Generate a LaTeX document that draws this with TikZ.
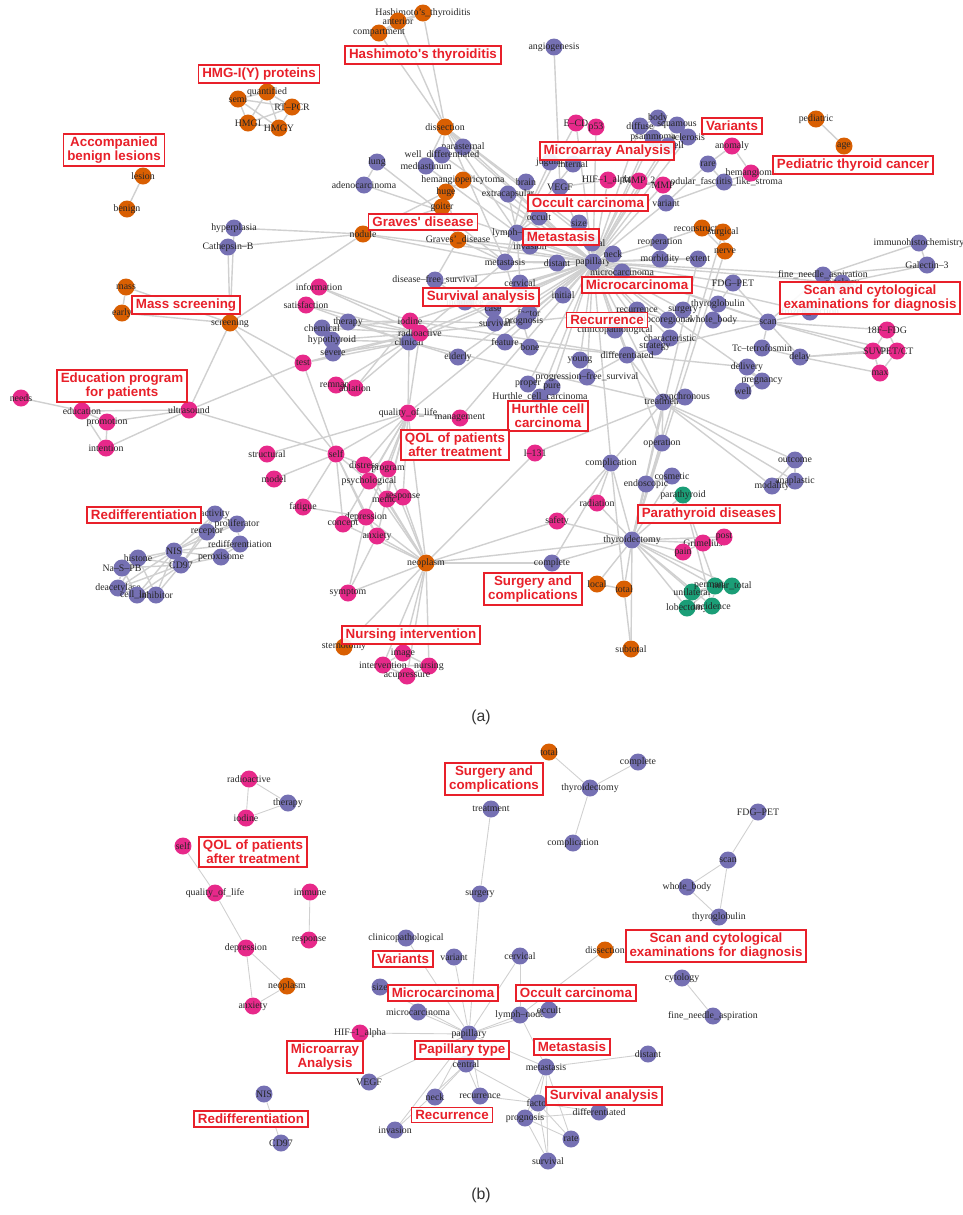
\documentclass[tikz,border=0pt]{standalone}
\usepackage{fontspec}
\setmainfont{Liberation Serif}
\newfontfamily\topicfont{Liberation Sans}
\usepackage{tikz}
\usetikzlibrary{backgrounds}

\definecolor{purp}{HTML}{7570B3}
\definecolor{orng}{HTML}{D95F02}
\definecolor{pinkc}{HTML}{E7298A}
\definecolor{grn}{HTML}{1B9E77}
\definecolor{edgec}{HTML}{D0D0D0}
\definecolor{boxred}{HTML}{E8202A}

\begin{document}
\begin{tikzpicture}[
    x=0.02cm, y=-0.02cm,
    termtext/.style={font=\fontsize{5.6}{6}\selectfont, text=black!85, inner sep=0pt},
    termnode/.style={circle, minimum size=3.4mm, inner sep=0pt},
    bluenode/.style={termnode, fill=purp, label={[termtext]center:#1}},
    orangenode/.style={termnode, fill=orng, label={[termtext]center:#1}},
    pinknode/.style={termnode, fill=pinkc, label={[termtext]center:#1}},
    greennode/.style={termnode, fill=grn, label={[termtext]center:#1}},
    topic/.style={draw=boxred, line width=1pt, fill=white, fill opacity=0.9, text opacity=1,
                  text=boxred, font=\topicfont\bfseries\fontsize{7.6}{8.2}\selectfont,
                  align=center, inner xsep=2.2pt, inner ysep=1.6pt},
    link/.style={draw=edgec, line width=0.8pt},
    thinlink/.style={draw=edgec, line width=0.5pt},
    caption/.style={font=\topicfont\fontsize{9}{10}\selectfont, text=black!80},
  ]
  \useasboundingbox (0,0) rectangle (963,1215);

  %%%%%%%%%%%%%%%%%%%% (a) %%%%%%%%%%%%%%%%%%%%
  %Orange nodes
  \node[orangenode={Hashimoto's\_thyroiditis}] (hashi) at (423,13) {};
  \node[orangenode=anterior]    (anter)   at (398,21) {};
  \node[orangenode=compartment] (compart) at (379,33) {};
  \node[orangenode=quantified]  (quant)   at (267,92) {};
  \node[orangenode=semi]        (semi)    at (238,99) {};
  \node[orangenode=RT--PCR]     (rtpcr)   at (292,107) {};
  \node[orangenode=HMGI]        (hmgi)    at (248,123) {};
  \node[orangenode=HMGY]        (hmgy)    at (279,128) {};
  \node[orangenode=lesion]      (lesion)  at (143,176) {};
  \node[orangenode=benign]      (benign)  at (127,209) {};
  \node[orangenode=dissection]  (dissec)  at (445,127) {};
  \node[orangenode=hemangiopericytoma] (hemang) at (463,180) {};
  \node[orangenode=huge]        (huge)    at (446,192) {};
  \node[orangenode=goiter]      (goiter)  at (442,207) {};
  \node[orangenode=nodule]      (nodule)  at (363,234) {};
  \node[orangenode={Graves'\_disease}] (graves) at (458,240) {};
  \node[orangenode=mass]        (mass)    at (126,287) {};
  \node[orangenode=early]       (early)   at (122,313) {};
  \node[orangenode=screening]   (screen)  at (230,323) {};
  \node[orangenode=pediatric]   (pediat)  at (816,119) {};
  \node[orangenode=age]         (age)     at (844,146) {};
  \node[orangenode=reconstruction] (recon) at (702,228) {};
  \node[orangenode=surgical]    (surgic)  at (723,232) {};
  \node[orangenode=nerve]       (nerve)   at (725,251) {};
  \node[orangenode=neoplasm]    (neopl)   at (426,563) {};
  \node[orangenode=sternotomy]  (sterno)  at (344,647) {};
  \node[orangenode=local]       (local)   at (597,584) {};
  \node[orangenode=total]       (total)   at (624,589) {};
  \node[orangenode=subtotal]    (subtot)  at (631,649) {};

  %Purple nodes
  \node[bluenode=parasternal]   (parast)  at (463,147) {};
  \node[bluenode=well\_differentiated] (welldiff) at (442,155) {};
  \node[bluenode=mediastinum]   (medias)  at (426,166) {};
  \node[bluenode=lung]          (lung)    at (377,162) {};
  \node[bluenode=adenocarcinoma] (adeno)  at (364,185) {};
  \node[bluenode=hyperplasia]   (hyperp)  at (234,228) {};
  \node[bluenode=Cathepsin--B]  (cathep)  at (228,247) {};
  \node[bluenode=angiogenesis]  (angio)   at (554,47) {};
  \node[bluenode=body]          (body)    at (658,118) {};
  \node[bluenode=diffuse]       (diffuse) at (640,126) {};
  \node[bluenode=squamous]      (squam)   at (677,125) {};
  \node[bluenode=psammoma]      (psamm)   at (653,138) {};
  \node[bluenode=sclerosis]     (sclero)  at (688,137) {};
  \node[bluenode=tall\_cell]    (tallc)   at (668,146) {};
  \node[bluenode=jugular]       (jugul)   at (550,162) {};
  \node[bluenode=internal]      (intern)  at (573,164) {};
  \node[bluenode=rare]          (rare)    at (708,164) {};
  \node[bluenode=nodular\_fasciitis\_like\_stroma] (nodfas) at (724,182) {};
  \node[bluenode=brain]         (brain)   at (526,182) {};
  \node[bluenode=VEGF]          (vegf)    at (560,187) {};
  \node[bluenode=extracapsular] (extrac)  at (508,194) {};
  \node[bluenode=variant]       (variant) at (666,203) {};
  \node[bluenode=occult]        (occult)  at (539,217) {};
  \node[bluenode=size]          (size)    at (579,223) {};
  \node[bluenode=lymph--node]   (lymph)   at (517,233) {};
  \node[bluenode=invasion]      (invas)   at (530,246) {};
  \node[bluenode=central]       (central) at (592,243) {};
  \node[bluenode=reoperation]   (reop)    at (660,242) {};
  \node[bluenode=metastasis]    (metast)  at (505,262) {};
  \node[bluenode=distant]       (distant) at (557,263) {};
  \node[bluenode=papillary]     (papill)  at (593,262) {};
  \node[bluenode=neck]          (neck)    at (613,254) {};
  \node[bluenode=microcarcinoma] (microc) at (622,272) {};
  \node[bluenode=morbidity]     (morbid)  at (660,259) {};
  \node[bluenode=extent]        (extent)  at (698,259) {};
  \node[bluenode=disease--free\_survival] (dfs) at (435,280) {};
  \node[bluenode=cervical]      (cervic)  at (520,283) {};
  \node[bluenode=initial]       (initial) at (563,295) {};
  \node[bluenode=incidence]     (incid)   at (465,302) {};
  \node[bluenode=case]          (case)    at (493,309) {};
  \node[bluenode=survival]      (surviv)  at (495,323) {};
  \node[bluenode=factor]        (factor)  at (529,313) {};
  \node[bluenode=prognosis]     (progn)   at (524,321) {};
  \node[bluenode=feature]       (feature) at (505,342) {};
  \node[bluenode=bone]          (bone)    at (530,347) {};
  \node[bluenode=proper]        (proper)  at (528,384) {};
  \node[bluenode=pure]          (pure)    at (552,387) {};
  \node[bluenode=Hurthle\_cell\_carcinoma] (hurthle) at (540,397) {};
  \node[bluenode=therapy]       (therapy) at (348,322) {};
  \node[bluenode=chemical]      (chemic)  at (322,328) {};
  \node[bluenode=hypothyroid]   (hypoth)  at (332,340) {};
  \node[bluenode=severe]        (severe)  at (333,353) {};
  \node[bluenode=clinical]      (clinic)  at (409,342) {};
  \node[bluenode=elderly]       (elderly) at (458,357) {};
  \node[bluenode=FDG--PET]      (fdgpet)  at (733,283) {};
  \node[bluenode=immunohistochemistry] (immuno) at (919,243) {};
  \node[bluenode=Galectin--3]   (galect)  at (927,265) {};
  \node[bluenode=fine\_needle\_aspiration] (fna) at (823,275) {};
  \node[bluenode=cytology]      (cytol)   at (842,283) {};
  \node[bluenode=frozen\_section] (frozen) at (810,312) {};
  \node[bluenode=recurrence]    (recurr)  at (637,310) {};
  \node[bluenode=surgery]       (surgery) at (683,310) {};
  \node[bluenode=thyroglobulin] (thyrog)  at (718,304) {};
  \node[bluenode=whole\_body]   (whole)   at (713,320) {};
  \node[bluenode=scan]          (scan)    at (768,322) {};
  \node[bluenode=locoregional]  (locoreg) at (668,320) {};
  \node[bluenode=clinicopathological] (clinpath) at (615,330) {};
  \node[bluenode=characteristic] (charac) at (670,338) {};
  \node[bluenode=strategy]      (strat)   at (655,347) {};
  \node[bluenode=differentiated] (differ) at (627,355) {};
  \node[bluenode=young]         (young)   at (580,360) {};
  \node[bluenode=Tc--tetrofosmin] (tc)    at (762,348) {};
  \node[bluenode=delay]         (delay)   at (800,357) {};
  \node[bluenode=delivery]      (deliv)   at (747,367) {};
  \node[bluenode=pregnancy]     (pregn)   at (762,381) {};
  \node[bluenode=well]          (well)    at (743,391) {};
  \node[bluenode=progression--free\_survival] (pfs) at (587,377) {};
  \node[bluenode=treatment]     (treat)   at (663,402) {};
  \node[bluenode=synchronous]   (synchr)  at (685,397) {};
  \node[bluenode=operation]     (operat)  at (662,443) {};
  \node[bluenode=complication]  (complic) at (611,463) {};
  \node[bluenode=outcome]       (outcome) at (795,460) {};
  \node[bluenode=cosmetic]      (cosmet)  at (672,476) {};
  \node[bluenode=endoscopic]    (endosc)  at (646,484) {};
  \node[bluenode=modality]      (modal)   at (772,486) {};
  \node[bluenode=anaplastic]    (anapl)   at (795,481) {};
  \node[bluenode=thyroidectomy] (thyroid) at (632,540) {};
  \node[bluenode=complete]      (complete) at (552,563) {};
  \node[bluenode=activity]      (activity) at (215,514) {};
  \node[bluenode=proliferator]  (prolif)  at (237,524) {};
  \node[bluenode=receptor]      (receptor) at (207,532) {};
  \node[bluenode=redifferentiation] (rediff) at (240,544) {};
  \node[bluenode=NIS]           (nis)     at (174,551) {};
  \node[bluenode=peroxisome]    (perox)   at (221,557) {};
  \node[bluenode=histone]       (histone) at (138,558) {};
  \node[bluenode=CD97]          (cd97)    at (181,565) {};
  \node[bluenode=Na--S--PB]     (naspb)   at (122,568) {};
  \node[bluenode=deacetylase]   (deacet)  at (118,588) {};
  \node[bluenode=cell\_line]    (cellline) at (137,595) {};
  \node[bluenode=inhibitor]     (inhib)   at (156,595) {};

  %Pink nodes
  \node[pinknode=E--CD]         (ecd)     at (576,123) {};
  \node[pinknode=p53]           (p53)     at (596,127) {};
  \node[pinknode=anomaly]       (anomaly) at (732,146) {};
  \node[pinknode=hemangioma]    (hemangi) at (751,173) {};
  \node[pinknode=HIF--1\_alpha] (hif)     at (608,180) {};
  \node[pinknode=MMP\_2]        (mmp2)    at (639,181) {};
  \node[pinknode=MMP]           (mmp)     at (663,185) {};
  \node[pinknode=information]   (inform)  at (319,287) {};
  \node[pinknode=satisfaction]  (satisf)  at (306,305) {};
  \node[pinknode=iodine]        (iodine)  at (410,321) {};
  \node[pinknode=radioactive]   (radio)   at (420,333) {};
  \node[pinknode=test]          (test)    at (303,363) {};
  \node[pinknode=remnant]       (remnant) at (336,385) {};
  \node[pinknode=ablation]      (ablat)   at (355,388) {};
  \node[pinknode=quality\_of\_life] (qol) at (408,413) {};
  \node[pinknode=management]    (manage)  at (460,418) {};
  \node[pinknode=needs]         (needs)   at (21,398) {};
  \node[pinknode=education]     (educ)    at (82,411) {};
  \node[pinknode=promotion]     (promot)  at (107,422) {};
  \node[pinknode=intention]     (intent)  at (106,448) {};
  \node[pinknode=ultrasound]    (ultra)   at (189,410) {};
  \node[pinknode=structural]    (struct)  at (267,454) {};
  \node[pinknode=self]          (self)    at (336,454) {};
  \node[pinknode=I--131]        (i131)    at (535,453) {};
  \node[pinknode=model]         (model)   at (274,479) {};
  \node[pinknode=distress]      (distress) at (364,465) {};
  \node[pinknode=program]       (program) at (388,469) {};
  \node[pinknode=psychological] (psych)   at (369,481) {};
  \node[pinknode=method]        (method)  at (387,499) {};
  \node[pinknode=response]      (respon)  at (403,497) {};
  \node[pinknode=fatigue]       (fatigue) at (303,507) {};
  \node[pinknode=depression]    (depress) at (366,517) {};
  \node[pinknode=concept]       (concept) at (343,524) {};
  \node[pinknode=anxiety]       (anxiety) at (377,536) {};
  \node[pinknode=symptom]       (symptom) at (348,593) {};
  \node[pinknode=image]         (image)   at (403,653) {};
  \node[pinknode=intervention]  (interv)  at (383,665) {};
  \node[pinknode=nursing]       (nursing) at (429,666) {};
  \node[pinknode=acupressure]   (acupr)   at (407,676) {};
  \node[pinknode=radiation]     (radiat)  at (597,503) {};
  \node[pinknode=safety]        (safety)  at (557,521) {};
  \node[pinknode=Grimelius]     (grim)    at (703,543) {};
  \node[pinknode=post]          (post)    at (724,537) {};
  \node[pinknode=pain]          (pain)    at (683,552) {};
  \node[pinknode=18F--FDG]      (fdg18)   at (887,330) {};
  \node[pinknode=SUV]           (suv)     at (873,351) {};
  \node[pinknode=PET/CT]        (petct)   at (897,351) {};
  \node[pinknode=max]           (max)     at (880,373) {};

  %Green nodes
  \node[greennode=parathyroid]  (parath)  at (683,495) {};
  \node[greennode=unilateral]   (unilat)  at (692,592) {};
  \node[greennode=permanent]    (perman)  at (715,586) {};
  \node[greennode=near\_total]  (neartot) at (732,586) {};
  \node[greennode=lobectomy]    (lobect)  at (687,608) {};
  \node[greennode=incidence]    (incidg)  at (712,606) {};

  %%%%%%%%%%%%%%%%%%%% (b) %%%%%%%%%%%%%%%%%%%%
  \node[orangenode=total]       (btotal)   at (549,752) {};
  \node[bluenode=complete]      (bcomplete) at (638,762) {};
  \node[bluenode=thyroidectomy] (bthyroid) at (590,788) {};
  \node[bluenode=treatment]     (btreat)   at (491,809) {};
  \node[bluenode=complication]  (bcomplic) at (573,843) {};
  \node[bluenode=surgery]       (bsurgery) at (480,894) {};
  \node[bluenode=FDG--PET]      (bfdgpet)  at (758,812) {};
  \node[bluenode=scan]          (bscan)    at (728,860) {};
  \node[bluenode=whole\_body]   (bwhole)   at (687,887) {};
  \node[bluenode=thyroglobulin] (bthyrog)  at (719,917) {};
  \node[pinknode=radioactive]   (bradio)   at (249,779) {};
  \node[bluenode=therapy]       (btherapy) at (288,803) {};
  \node[pinknode=iodine]        (biodine)  at (246,818) {};
  \node[pinknode=self]          (bself)    at (183,846) {};
  \node[pinknode=quality\_of\_life] (bqol)  at (215,893) {};
  \node[pinknode=immune]        (bimmune)  at (310,892) {};
  \node[pinknode=response]      (brespon)  at (309,940) {};
  \node[pinknode=depression]    (bdepress) at (246,948) {};
  \node[orangenode=neoplasm]    (bneopl)   at (287,986) {};
  \node[pinknode=anxiety]       (banxiety) at (253,1006) {};
  \node[bluenode=clinicopathological] (bclinpath) at (406,938) {};
  \node[bluenode=variant]       (bvariant) at (454,957) {};
  \node[bluenode=cervical]      (bcervic)  at (520,956) {};
  \node[orangenode=dissection]  (bdissec)  at (605,950) {};
  \node[bluenode=cytology]      (bcytol)   at (682,978) {};
  \node[bluenode=fine\_needle\_aspiration] (bfna) at (713,1016) {};
  \node[bluenode=size]          (bsize)    at (380,987) {};
  \node[bluenode=microcarcinoma] (bmicroc) at (418,1012) {};
  \node[bluenode=lymph--node]   (blymph)   at (520,1015) {};
  \node[bluenode=occult]        (boccult)  at (549,1010) {};
  \node[pinknode=HIF--1\_alpha] (bhif)     at (360,1033) {};
  \node[bluenode=papillary]     (bpapill)  at (469,1034) {};
  \node[bluenode=distant]       (bdistant) at (648,1054) {};
  \node[bluenode=central]       (bcentral) at (466,1064) {};
  \node[bluenode=metastasis]    (bmetast)  at (546,1067) {};
  \node[bluenode=VEGF]          (bvegf)    at (369,1082) {};
  \node[bluenode=NIS]           (bnis)     at (264,1094) {};
  \node[bluenode=CD97]          (bcd97)    at (281,1143) {};
  \node[bluenode=neck]          (bneck)    at (435,1097) {};
  \node[bluenode=recurrence]    (brecurr)  at (480,1096) {};
  \node[bluenode=factor]        (bfactor)  at (538,1103) {};
  \node[bluenode=differentiated] (bdiffer) at (599,1112) {};
  \node[bluenode=prognosis]     (bprogn)   at (525,1118) {};
  \node[bluenode=invasion]      (binvas)   at (395,1130) {};
  \node[bluenode=rate]          (brate)    at (571,1139) {};
  \node[bluenode=survival]      (bsurviv)  at (548,1161) {};

  %Lines
  \begin{scope}[on background layer]
    \foreach \a/\b in {
      dissec/hashi, dissec/anter, dissec/compart, hashi/anter, anter/compart, hashi/compart,
      semi/quant, semi/rtpcr, semi/hmgi, semi/hmgy, quant/rtpcr, quant/hmgi, quant/hmgy,
      rtpcr/hmgi, rtpcr/hmgy, hmgi/hmgy, lesion/benign, pediat/age,
      dissec/parast, dissec/welldiff, dissec/medias, dissec/lymph, dissec/central, dissec/neck,
      dissec/papill, dissec/metast, medias/lymph, welldiff/papill, parast/papill,
      lung/adeno, lung/metast, adeno/papill, hemang/huge, hemang/papill, huge/goiter,
      huge/graves, goiter/graves, goiter/nodule, huge/nodule, nodule/papill, nodule/metast,
      nodule/hyperp, nodule/cathep, nodule/screen, graves/papill, graves/invas, graves/metast,
      hyperp/screen, cathep/screen, mass/early, mass/screen, early/screen,
      screen/ultra, screen/test, screen/self, ultra/educ, ultra/promot, ultra/intent,
      ultra/test, ultra/self, educ/needs, educ/promot, educ/intent, promot/intent,
      angio/vegf, ecd/p53, ecd/papill, p53/papill, ecd/lymph, body/diffuse, diffuse/squam,
      body/squam, psamm/sclero, psamm/tallc, diffuse/papill, squam/papill, body/papill,
      psamm/papill, sclero/papill, tallc/papill, anomaly/hemangi, anomaly/rare, rare/nodfas,
      hemangi/nodfas, variant/papill, variant/rare, variant/nodfas, hif/vegf, hif/papill,
      mmp2/papill, mmp/papill, mmp2/mmp, hif/mmp2, vegf/papill, brain/metast, jugul/intern,
      jugul/lymph, intern/lymph, extrac/lymph, extrac/papill, occult/papill, occult/lymph,
      size/papill, size/central, lymph/papill, lymph/central, lymph/metast, invas/papill,
      central/papill, central/neck, metast/papill, metast/distant, neck/papill, microc/papill,
      reop/papill, morbid/papill, extent/papill, reop/morbid, morbid/extent, recon/surgic,
      surgic/nerve, recon/nerve, recon/reop, surgic/thyroid, nerve/thyroid, extent/thyroid,
      cervic/papill, cervic/lymph, initial/papill, incid/papill, case/papill, surviv/papill,
      factor/progn, factor/papill, progn/surviv, case/surviv, feature/papill, bone/metast,
      proper/papill, pure/papill, hurthle/proper, hurthle/pure, hurthle/papill, young/papill,
      differ/papill, pfs/differ, pfs/papill, charac/papill, strat/papill, recurr/papill,
      surgery/papill, locoreg/recurr, locoreg/papill, clinpath/papill, fdgpet/papill,
      fdgpet/thyrog, fdgpet/scan, thyrog/whole, thyrog/scan, whole/scan, thyrog/papill,
      scan/papill, scan/tc, scan/delay, scan/fna, scan/fdg18, scan/suv, scan/petct,
      scan/frozen, scan/differ, tc/delay, delay/suv, delay/petct, delay/max, fdg18/suv,
      fdg18/petct, suv/petct, suv/max, petct/max, deliv/pregn, pregn/well, deliv/well,
      pregn/papill, deliv/differ, immuno/galect, immuno/fna, galect/fna, fna/cytol,
      galect/cytol, fna/papill, cytol/papill, frozen/papill, treat/papill, treat/differ,
      treat/synchr, treat/clinic, treat/operat, treat/thyroid, treat/complic, treat/outcome,
      treat/modal, treat/anapl, outcome/anapl, outcome/modal, modal/anapl, operat/thyroid,
      operat/papill, complic/thyroid, complic/papill, complic/radiat, complic/safety,
      complic/complete, complic/total, i131/treat, i131/neopl, radiat/thyroid, safety/thyroid,
      complete/thyroid, safety/neopl, complete/neopl, local/thyroid, total/thyroid,
      subtot/thyroid, total/subtot, local/total, cosmet/thyroid, endosc/thyroid, cosmet/endosc,
      parath/thyroid, grim/thyroid, pain/thyroid, post/thyroid, grim/post, grim/pain,
      unilat/thyroid, perman/thyroid, neartot/thyroid, lobect/thyroid, incidg/thyroid,
      parath/perman, parath/incidg, unilat/lobect, unilat/perman, perman/neartot,
      lobect/incidg, perman/incidg, unilat/neartot, lobect/perman, neopl/thyroid, neopl/qol,
      neopl/anxiety, neopl/depress, neopl/respon, neopl/method, neopl/program, neopl/concept,
      neopl/symptom, neopl/sterno, neopl/image, neopl/interv, neopl/nursing, neopl/acupr,
      neopl/psych, neopl/distress, qol/self, qol/manage, qol/struct, qol/distress,
      qol/program, qol/method, qol/respon, qol/psych, qol/depress, qol/anxiety, qol/concept,
      qol/papill, manage/papill, self/model, self/distress, self/psych, self/depress,
      self/concept, self/anxiety, self/fatigue, self/test, fatigue/depress, concept/depress,
      depress/anxiety, symptom/anxiety, symptom/depress, interv/image, interv/nursing,
      acupr/nursing, image/nursing, interv/acupr, program/method, distress/psych,
      iodine/papill, radio/papill, clinic/papill, iodine/differ, radio/differ, iodine/surviv,
      radio/recurr, clinic/metast, therapy/iodine, therapy/radio, therapy/clinic,
      chemic/radio, chemic/iodine, hypoth/radio, hypoth/clinic, severe/clinic, severe/radio,
      inform/iodine, inform/radio, satisf/radio, satisf/clinic, test/radio, test/clinic,
      remnant/radio, ablat/iodine, ablat/radio, remnant/ablat, qol/clinic, qol/radio,
      iodine/radio, iodine/clinic, radio/clinic, elderly/clinic, elderly/papill,
      dfs/papill, dfs/graves, dfs/surviv,
      nis/activity, nis/prolif, nis/receptor, nis/rediff, nis/perox, nis/histone, nis/cd97,
      nis/naspb, nis/deacet, nis/cellline, nis/inhib, cd97/activity, cd97/receptor,
      cd97/rediff, cd97/perox, cd97/histone, cd97/naspb, cd97/deacet, cd97/cellline,
      cd97/inhib, activity/prolif, prolif/receptor, receptor/activity, rediff/perox,
      rediff/prolif, histone/naspb, histone/deacet, naspb/deacet, deacet/cellline,
      cellline/inhib, histone/inhib, naspb/cellline}
      \draw[link] (\a) -- (\b);

    \foreach \a/\b in {
      btotal/bthyroid, bcomplete/bthyroid, bthyroid/bcomplic, btreat/bsurgery,
      bsurgery/bpapill, bfdgpet/bscan, bscan/bwhole, bscan/bthyrog, bwhole/bthyrog,
      bradio/btherapy, bradio/biodine, btherapy/biodine, bself/bqol, bqol/bdepress,
      bdepress/bneopl, bdepress/banxiety, bneopl/banxiety, bimmune/brespon, bcytol/bfna,
      bnis/bcd97, bdissec/blymph, bclinpath/bpapill, bvariant/bpapill, bcervic/blymph,
      bcervic/bpapill, bsize/bpapill, bmicroc/bpapill, blymph/bpapill, boccult/bpapill,
      bhif/bpapill, bcentral/bpapill, bmetast/bpapill, bmetast/bdistant, bmetast/blymph,
      bneck/bpapill, bneck/bcentral, brecurr/bpapill, binvas/bpapill, binvas/bcentral,
      bvegf/bpapill, bfactor/bmetast, bprogn/bmetast, brate/bmetast, bsurviv/bmetast,
      bfactor/bprogn, bfactor/bdiffer, bfactor/brate, bsurviv/bfactor, bprogn/bsurviv,
      bprogn/brate, bdiffer/bprogn, brecurr/bfactor, bcentral/bfactor, bcentral/brecurr}
      \draw[thinlink] (\a) -- (\b);
  \end{scope}

  %Topic boxes (a)
  \node[topic] (tHashi)   at (423,55)  {Hashimoto's thyroiditis};
  \node[topic] (tHmg)     at (259,74)  {HMG-I(Y) proteins};
  \node[topic] (tBenign)  at (114,150) {Accompanied\\benign lesions};
  \node[topic] (tGraves)  at (423,222) {Graves' disease};
  \node[topic] (tArray)   at (607,151) {Microarray Analysis};
  \node[topic] (tVar)     at (732,126) {Variants};
  \node[topic] (tPed)     at (853,165) {Pediatric thyroid cancer};
  \node[topic] (tOccult)  at (588,203) {Occult carcinoma};
  \node[topic] (tMeta)    at (561,237) {Metastasis};
  \node[topic] (tMicro)   at (637,285) {Microcarcinoma};
  \node[topic] (tSurv)    at (481,297) {Survival analysis};
  \node[topic] (tRecur)   at (607,320) {Recurrence};
  \node[topic] (tScan)    at (870,298) {Scan and cytological\\examinations for diagnosis};
  \node[topic] (tMass)    at (186,305) {Mass screening};
  \node[topic] (tEdu)     at (122,386) {Education program\\for patients};
  \node[topic] (tHurthle) at (548,416) {Hurthle cell\\carcinoma};
  \node[topic] (tQol)     at (455,445) {QOL of patients\\after treatment};
  \node[topic] (tRediff)  at (144,515) {Redifferentiation};
  \node[topic] (tPara)    at (709,514) {Parathyroid diseases};
  \node[topic] (tSurg)    at (533,589) {Surgery and\\complications};
  \node[topic] (tNurse)   at (411,635) {Nursing intervention};

  %Topic boxes (b)
  \node[topic] (ubSurg)   at (494,779)  {Surgery and\\complications};
  \node[topic] (ubQol)    at (253,852)  {QOL of patients\\after treatment};
  \node[topic] (ubVar)    at (403,959)  {Variants};
  \node[topic] (ubScan)   at (716,946)  {Scan and cytological\\examinations for diagnosis};
  \node[topic] (ubMicro)  at (443,993)  {Microcarcinoma};
  \node[topic] (ubOccult) at (576,993)  {Occult carcinoma};
  \node[topic] (ubArray)  at (325,1057) {Microarray\\Analysis};
  \node[topic] (ubPap)    at (462,1050) {Papillary type};
  \node[topic] (ubMeta)   at (572,1047) {Metastasis};
  \node[topic] (ubSurv)   at (604,1096) {Survival analysis};
  \node[topic] (ubRecur)  at (452,1115) {Recurrence};
  \node[topic] (ubRediff) at (251,1119) {Redifferentiation};

  %Captions
  \node[caption] (capa) at (481,717)  {(a)};
  \node[caption] (capb) at (481,1195) {(b)};
\end{tikzpicture}
\end{document}
